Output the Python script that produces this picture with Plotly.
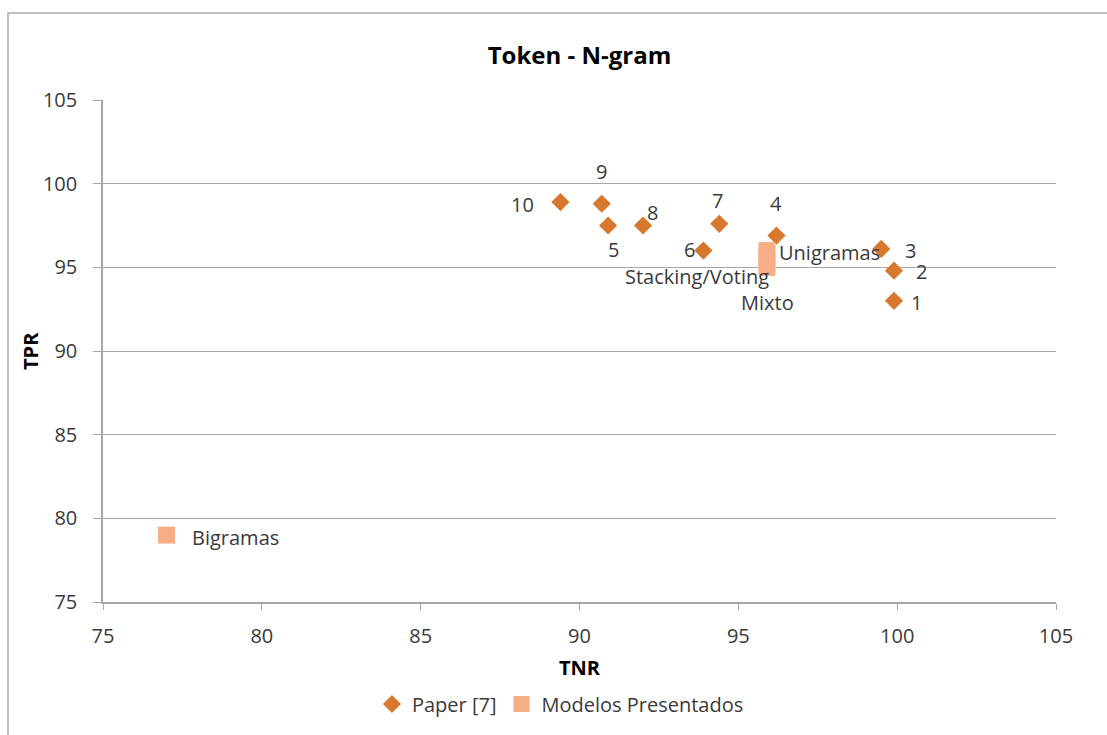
import plotly.graph_objects as go

# Paper [7] results
paper_labels = ["1", "2", "3", "4", "5", "6", "7", "8", "9", "10"]
paper_tnr = [99.9, 99.9, 99.5, 96.2, 90.9, 93.9, 94.4, 92.0, 90.7, 89.4]
paper_tpr = [93.0, 94.8, 96.1, 96.9, 97.5, 96.0, 97.6, 97.5, 98.8, 98.9]

# Presented models
model_labels = ["Unigramas", "Bigramas", "Mixto", "Stacking/Voting"]
model_tnr = [95.9, 77.0, 95.9, 95.9]
model_tpr = [96.0, 79.0, 95.5, 95.0]

x_ticks = [75, 80, 85, 90, 95, 100, 105]
y_ticks = [75, 80, 85, 90, 95, 100, 105]

# pixel offsets of each data label from its marker
paper_label_shift = {
    "1": (23, -2), "2": (28, -1), "3": (29, -2), "4": (0, 32),
    "5": (5, -24), "6": (-14, 1), "7": (-2, 23), "8": (9, 13),
    "9": (0, 32), "10": (-38, -2),
}
model_label_shift = {
    "Unigramas": (63, -2), "Bigramas": (69, -2),
    "Mixto": (1, -44), "Stacking/Voting": (-70, -9),
}

FONT = "'Open Sans', sans-serif"
TEXT = "#3A3A3A"
DIAMOND = "#D8782E"
SQUARE = "#F7AE86"
GRID = "#A6A6A6"
FS = 20

fig = go.Figure()
fig.add_trace(go.Scatter(
    x=paper_tnr, y=paper_tpr, mode="markers", name="Paper [7]",
    marker=dict(symbol="diamond", size=14, color=DIAMOND),
))
fig.add_trace(go.Scatter(
    x=model_tnr, y=model_tpr, mode="markers", name="Modelos Presentados",
    marker=dict(symbol="square", size=17, color=SQUARE),
))

annotations = []
for lab, x, y in zip(paper_labels, paper_tnr, paper_tpr):
    dx, dy = paper_label_shift[lab]
    annotations.append(dict(x=x, y=y, text=lab, showarrow=False, xshift=dx, yshift=dy,
                            font=dict(family=FONT, size=FS, color=TEXT)))
for lab, x, y in zip(model_labels, model_tnr, model_tpr):
    dx, dy = model_label_shift[lab]
    annotations.append(dict(x=x, y=y, text=lab, showarrow=False, xshift=dx, yshift=dy,
                            font=dict(family=FONT, size=FS, color=TEXT)))

# axis titles
annotations.append(dict(xref="paper", yref="paper", x=0.5, y=(602 - 668) / 502,
                        xanchor="center", yanchor="middle",
                        text="<b>TNR</b>", showarrow=False,
                        font=dict(family=FONT, size=FS, color="black")))
annotations.append(dict(xref="paper", yref="paper", x=(30 - 103) / 953, y=0.5,
                        xanchor="center", yanchor="middle",
                        text="<b>TPR</b>", showarrow=False, textangle=-90,
                        font=dict(family=FONT, size=FS, color="black")))

fig.update_layout(
    width=1107, height=735,
    margin=dict(l=103, r=51, t=100, b=133),
    paper_bgcolor="white", plot_bgcolor="white",
    font=dict(family=FONT, size=FS, color=TEXT),
    title=dict(text="<b>Token - N-gram</b>", x=0.5, xref="paper", xanchor="center",
               y=1 - 56 / 735, yanchor="middle",
               font=dict(family=FONT, size=24, color="black")),
    xaxis=dict(range=[75, 105], tickvals=x_ticks, showgrid=False, zeroline=False,
               showline=True, linecolor=GRID, linewidth=1.5,
               ticks="outside", ticklen=6, tickcolor=GRID, ticklabelstandoff=9,
               tickfont=dict(family=FONT, size=FS, color=TEXT)),
    yaxis=dict(range=[75, 105], tickvals=y_ticks, showgrid=True, gridcolor=GRID,
               gridwidth=1, zeroline=False, showline=True, linecolor=GRID,
               linewidth=1.5, ticks="outside", ticklen=8, tickcolor=GRID,
               ticklabelstandoff=12,
               tickfont=dict(family=FONT, size=FS, color=TEXT)),
    legend=dict(orientation="h", x=0.48, xanchor="center", y=(602 - 704) / 502,
                yanchor="middle", font=dict(family=FONT, size=FS, color=TEXT),
                itemwidth=30, tracegroupgap=0),
    annotations=annotations,
    shapes=[dict(type="rect", xref="paper", yref="paper",
                 x0=(8 - 103) / 953, x1=(1115 - 103) / 953,
                 y0=(602 - 745) / 502, y1=(602 - 13) / 502,
                 line=dict(color="#BFBFBF", width=2), layer="below")],
)

fig.write_html("out.html")
